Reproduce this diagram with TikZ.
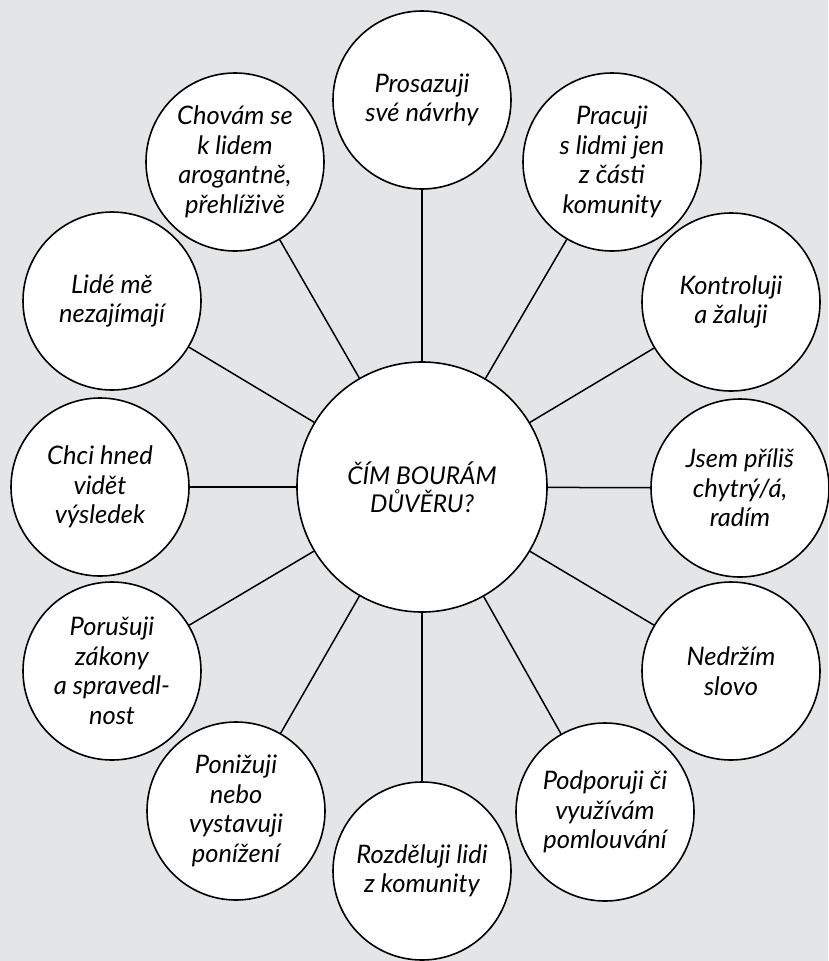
\documentclass[tikz,border=0pt]{standalone}
\usepackage{fontspec}
\setmainfont{Lato}
\definecolor{bggray}{HTML}{E4E5E6}
\begin{document}
\begin{tikzpicture}[x=1pt,y=-1pt,
  outer/.style={circle,draw=black,fill=white,line width=1.6pt,minimum size=178pt,inner sep=0pt,align=center,font=\fontsize{25.5}{29.5}\selectfont\itshape},
  center/.style={circle,draw=black,fill=white,line width=1.6pt,minimum size=250pt,inner sep=0pt,align=center,font=\fontsize{24.5}{28}\selectfont\itshape},
  link/.style={line width=1.5pt,draw=black}]
\fill[bggray] (0,0) rectangle (828,961);
\useasboundingbox (0,0) rectangle (828,961);
\node[center] (c) at (422,487) {ČÍM BOURÁM\\DŮVĚRU?};
\node[outer] (n1) at (422,100) {Prosazuji\\své návrhy};
\node[outer] (n2) at (612,162) {Pracuji\\s lidmi jen\\z části\\komunity};
\node[outer] (n3) at (731,302) {Kontroluji\\a žaluji};
\node[outer] (n4) at (740,488) {Jsem příliš\\chytrý/á,\\radím};
\node[outer] (n5) at (731,671) {Nedržím\\slovo};
\node[outer] (n6) at (605,812) {Podporuji či\\využívám\\pomlouvání};
\node[outer] (n7) at (422,871) {Rozděluji lidi\\z komunity};
\node[outer] (n8) at (236,811) {Ponižuji\\nebo\\vystavuji\\ponížení};
\node[outer] (n9) at (112,671) {Porušuji\\zákony\\a spravedl-\\nost};
\node[outer] (n10) at (100,487) {Chci hned\\vidět\\výsledek};
\node[outer] (n11) at (112,301) {Lidé mě\\nezajímají};
\node[outer] (n12) at (235,162) {Chovám se\\k lidem\\arogantně,\\přehlíživě};
\foreach \i in {1,...,12} {\draw[link] (c) -- (n\i);}
\end{tikzpicture}
\end{document}
